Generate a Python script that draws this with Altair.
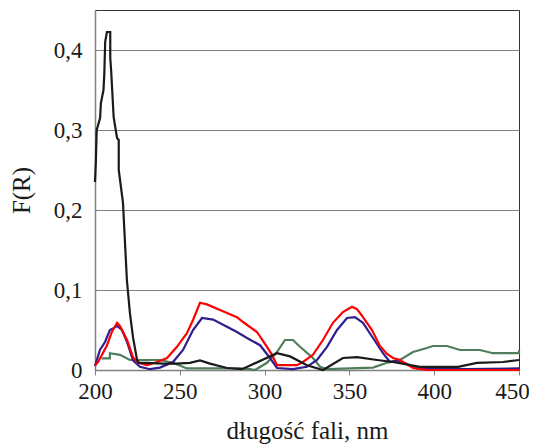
import altair as alt
import pandas as pd

# wavelength (nm) and F(R) readings for each curve
black_nm = [200, 200.5, 201, 203, 203.5, 205, 205.5, 206, 207, 209, 209, 209.5, 211, 213, 214, 214, 216.5,
            218.8, 220.6, 222.4, 224.8, 226, 230.7, 240, 248, 256, 261.9, 267.8, 277.8, 286.7, 307.3, 315,
            325, 334.4, 346.2, 354.5, 366.3, 375.7, 391.6, 414, 425.2, 440.6, 450]
black_val = [0.235, 0.26, 0.30, 0.315, 0.334, 0.35, 0.371, 0.41, 0.4225, 0.4225, 0.39, 0.375, 0.316, 0.29, 0.2875,
             0.25, 0.209, 0.1125, 0.071, 0.041, 0.0125, 0.009, 0.009, 0.008, 0.008, 0.009, 0.012, 0.008, 0.0025,
             0.001, 0.021, 0.017, 0.006, 0.0, 0.015, 0.016, 0.0125, 0.01, 0.004, 0.004, 0.009, 0.01, 0.0125]

red_nm = [200, 201.8, 207.1, 210, 213, 214.7, 218.9, 222.4, 225.4, 230.7, 236.6, 242.5, 248.3, 254.2, 257.8,
          261.9, 266, 273.7, 283.7, 287.3, 295.5, 301.4, 304.4, 307.3, 319.1, 322.6, 328.5, 334.4, 340.3,
          346.2, 351.5, 354.5, 358, 363.3, 368, 372.2, 375.7, 379.8, 387.5, 395.7, 450]
red_val = [0.006, 0.01, 0.031, 0.048, 0.059, 0.055, 0.0375, 0.016, 0.009, 0.006, 0.01, 0.015, 0.029, 0.046, 0.0625,
           0.084, 0.082, 0.075, 0.066, 0.06, 0.0475, 0.029, 0.019, 0.006, 0.006, 0.01, 0.019, 0.0375, 0.059,
           0.0725, 0.079, 0.076, 0.066, 0.05, 0.03, 0.02, 0.015, 0.0125, 0.0025, 0.0, 0.0]

blue_nm = [200, 202.9, 205.9, 208.8, 210.6, 213, 215.9, 218.9, 222.4, 226.5, 232.4, 238.3, 246, 251.9, 257.8,
           263.1, 269.6, 277.8, 283.7, 289.6, 297.3, 303.2, 307.3, 316.7, 325, 330.9, 336.8, 342.7, 348.6,
           353.3, 358, 363.9, 369.8, 373.9, 378.1, 384, 389.9, 420, 450]
blue_val = [0.005, 0.025, 0.035, 0.05, 0.052, 0.055, 0.05, 0.035, 0.012, 0.004, 0.001, 0.003, 0.01, 0.025, 0.05,
            0.065, 0.063, 0.054, 0.0475, 0.04, 0.031, 0.015, 0.0025, 0.001, 0.004, 0.0125, 0.029, 0.05, 0.065,
            0.066, 0.059, 0.04, 0.021, 0.01, 0.012, 0.0075, 0.002, 0.001, 0.002]

green_nm = [203.9, 208.8, 208.8, 214.7, 220.6, 238.3, 246, 254.2, 285.5, 291.4, 294.3, 301.4, 307.3, 312,
            316.7, 320.9, 328.5, 332.7, 336.8, 363.9, 372.2, 379.8, 387.5, 395.7, 399.3, 407.5, 415.2, 427,
            434.7, 450, 450]
green_val = [0.0146, 0.0146, 0.021, 0.019, 0.0125, 0.0125, 0.009, 0.002, 0.002, 0.001, 0.0, 0.009, 0.0225, 0.0375,
             0.0375, 0.029, 0.015, 0.004, 0.001, 0.003, 0.009, 0.0125, 0.0225, 0.0275, 0.03, 0.03, 0.025, 0.025,
             0.021, 0.021, 0.025]

series_names = ["green", "blue", "red", "black"]
series_colors = ["#4f7d5c", "#2e1f8f", "#ff0000", "#1a1a1a"]

x_ticks = [200, 250, 300, 350, 400, 450]
y_ticks = [0, 0.1, 0.2, 0.3, 0.4]

rows = []
for name, xs, ys in [("green", green_nm, green_val), ("blue", blue_nm, blue_val),
                     ("red", red_nm, red_val), ("black", black_nm, black_val)]:
    for i, (a, b) in enumerate(zip(xs, ys)):
        rows.append({"series": name, "nm": a, "F": b, "i": i})
df = pd.DataFrame(rows)

FONT = "Liberation Serif"

chart = alt.Chart(df).mark_line(strokeWidth=2.2).encode(
    x=alt.X("nm:Q", scale=alt.Scale(domain=[200, 450], nice=False),
            axis=alt.Axis(values=x_ticks, title="długość fali, nm", grid=False, tickSize=5,
                          labelPadding=5, titlePadding=15, format="d",
                          labelOffset=alt.ExprRef("datum.value == 450 ? -7 : 0"))),
    y=alt.Y("F:Q", scale=alt.Scale(domain=[0, 0.45], nice=False),
            axis=alt.Axis(values=y_ticks, title="F(R)", grid=True, ticks=False, labelPadding=13,
                          titlePadding=19,
                          labelExpr="datum.value == 0 ? '0' : replace(format(datum.value, '.1f'), '.', ',')")),
    color=alt.Color("series:N", scale=alt.Scale(domain=series_names, range=series_colors), legend=None),
    order=alt.Order("i:Q"),
).properties(
    width=424, height=360,
    autosize=alt.AutoSizeParams(type="none"),
    padding={"left": 87, "top": 2, "right": 10, "bottom": 75},
).configure_view(
    stroke="#333333", strokeWidth=1
).configure_axis(
    labelFont=FONT, titleFont=FONT, labelFontSize=23, titleFontSize=25,
    titleFontWeight="normal", labelColor="#1a1a1a", titleColor="#1a1a1a",
    domainColor="#808080", tickColor="#808080", gridColor="#808080", gridWidth=1,
    domainWidth=1.5, labelOverlap=False, labelFlush=False
)

chart.save("out.html", embed_options={"renderer": "svg", "actions": False})
